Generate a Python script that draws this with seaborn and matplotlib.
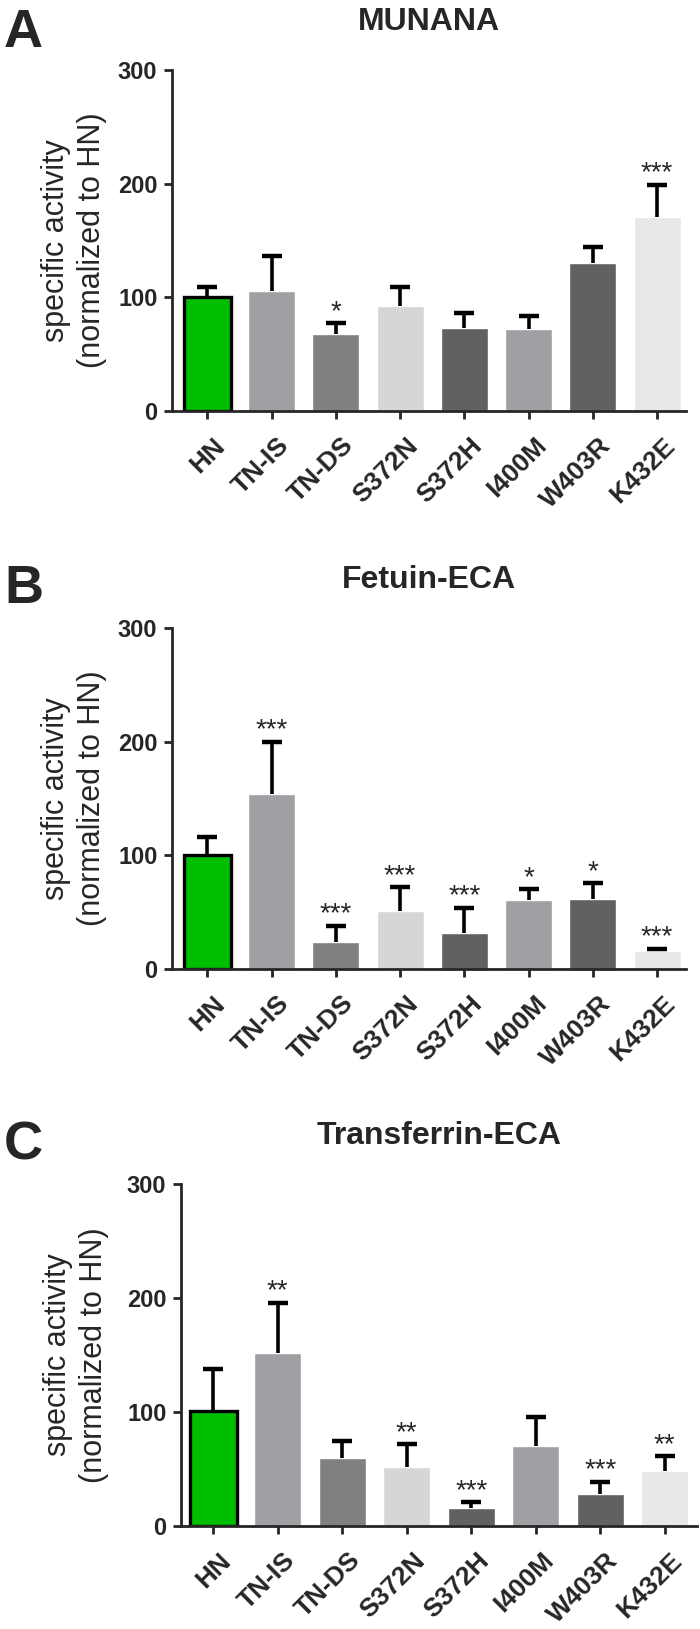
import numpy as np
import matplotlib
matplotlib.use('Agg')
import matplotlib.pyplot as plt
import matplotlib.transforms as mtrans
import seaborn as sns

# data
mutants = ['HN', 'TN-IS', 'TN-DS', 'S372N', 'S372H', 'I400M', 'W403R', 'K432E']
bar_colors = ['#00bf00', '#a0a0a4', '#808080', '#d6d6d6', '#616161', '#a0a0a4', '#616161', '#e8e8e8']

munana_mean = [100, 106, 68, 92, 73, 72, 130, 171]
munana_sd = [9, 30, 9, 17, 13, 12, 14, 28]
munana_stars = ['', '', '*', '', '', '', '', '***']

fetuin_mean = [100, 154, 24, 51, 32, 61, 62, 16]
fetuin_sd = [16, 46, 14, 21, 22, 9, 13.5, 2]
fetuin_stars = ['', '***', '***', '***', '***', '*', '*', '***']

transf_mean = [100.5, 152, 60, 52, 15.5, 70, 28, 48]
transf_sd = [37.5, 44, 15, 20, 5.5, 25.6, 11, 13]
transf_stars = ['', '**', '', '**', '***', '', '***', '**']

sns.set_style('ticks')
plt.rcParams['font.family'] = ['Liberation Sans', 'DejaVu Sans']

W, H = 700, 1629
fig = plt.figure(figsize=(W / 100, H / 100), dpi=100)

panels = [
    # letter, title, mean, sd, stars, (left, right, top, bottom px), letter baseline, label x, xlim
    ('A', 'MUNANA', munana_mean, munana_sd, munana_stars, (172, 686, 70, 411), 47, -0.126, (-0.55, 7.45)),
    ('B', 'Fetuin-ECA', fetuin_mean, fetuin_sd, fetuin_stars, (172, 686, 628, 969), 603, -0.126, (-0.55, 7.45)),
    ('C', 'Transferrin-ECA', transf_mean, transf_sd, transf_stars, (181, 697, 1184, 1526), 1160, -0.14, (-0.5, 7.5)),
]

shift = mtrans.ScaledTranslation(4 / 72, 0, fig.dpi_scale_trans)

for letter, title, mean, sd, stars, box, let_y, lab_x, xl in panels:
    l, r, t, b = box
    ax = fig.add_axes([l / W, 1 - b / H, (r - l) / W, (b - t) / H])

    sns.barplot(x=mutants, y=mean, hue=mutants, palette=bar_colors, width=0.73,
                saturation=1, legend=False, ax=ax)
    ax.patches[0].set_edgecolor('black')
    ax.patches[0].set_linewidth(2.4)

    x = np.arange(len(mutants))
    eb = ax.errorbar(x, mean, yerr=[np.zeros(len(mean)), sd], fmt='none', ecolor='black',
                     elinewidth=2.6, capsize=7.5, capthick=3.2, zorder=3)
    eb[1][0].set_visible(False)  # only the upper cap

    for xi, m, s, st in zip(x, mean, sd, stars):
        if st:
            ax.annotate(st, (xi, m + s), xytext=(0, 3), textcoords='offset points',
                        ha='center', va='baseline', fontsize=20)

    ax.set_ylim(0, 300)
    ax.set_xlim(*xl)
    ax.set_yticks([0, 100, 200, 300])
    sns.despine(ax=ax)
    for sp in ['left', 'bottom']:
        ax.spines[sp].set_linewidth(2)
    ax.tick_params(axis='y', width=2, length=6, labelsize=17, pad=4.5)
    ax.tick_params(axis='x', width=2, length=6, labelsize=19, pad=10)
    for lab in ax.get_yticklabels():
        lab.set_fontweight('bold')
    for lab in ax.get_xticklabels():
        lab.set_rotation(45)
        lab.set_ha('right')
        lab.set_rotation_mode('anchor')
        lab.set_fontweight('bold')
        lab.set_transform(lab.get_transform() + shift)

    ax.set_ylabel('specific activity\n(normalized to HN)', fontsize=22, linespacing=1.25)
    ax.yaxis.set_label_coords(lab_x, 0.5)
    ax.set_xlabel('')
    ax.set_title(title, fontsize=23, fontweight='bold', pad=29)

    fig.text(4 / W, 1 - let_y / H, letter, fontsize=39, fontweight='bold',
             ha='left', va='baseline')

fig.savefig('out.png', dpi=100)
